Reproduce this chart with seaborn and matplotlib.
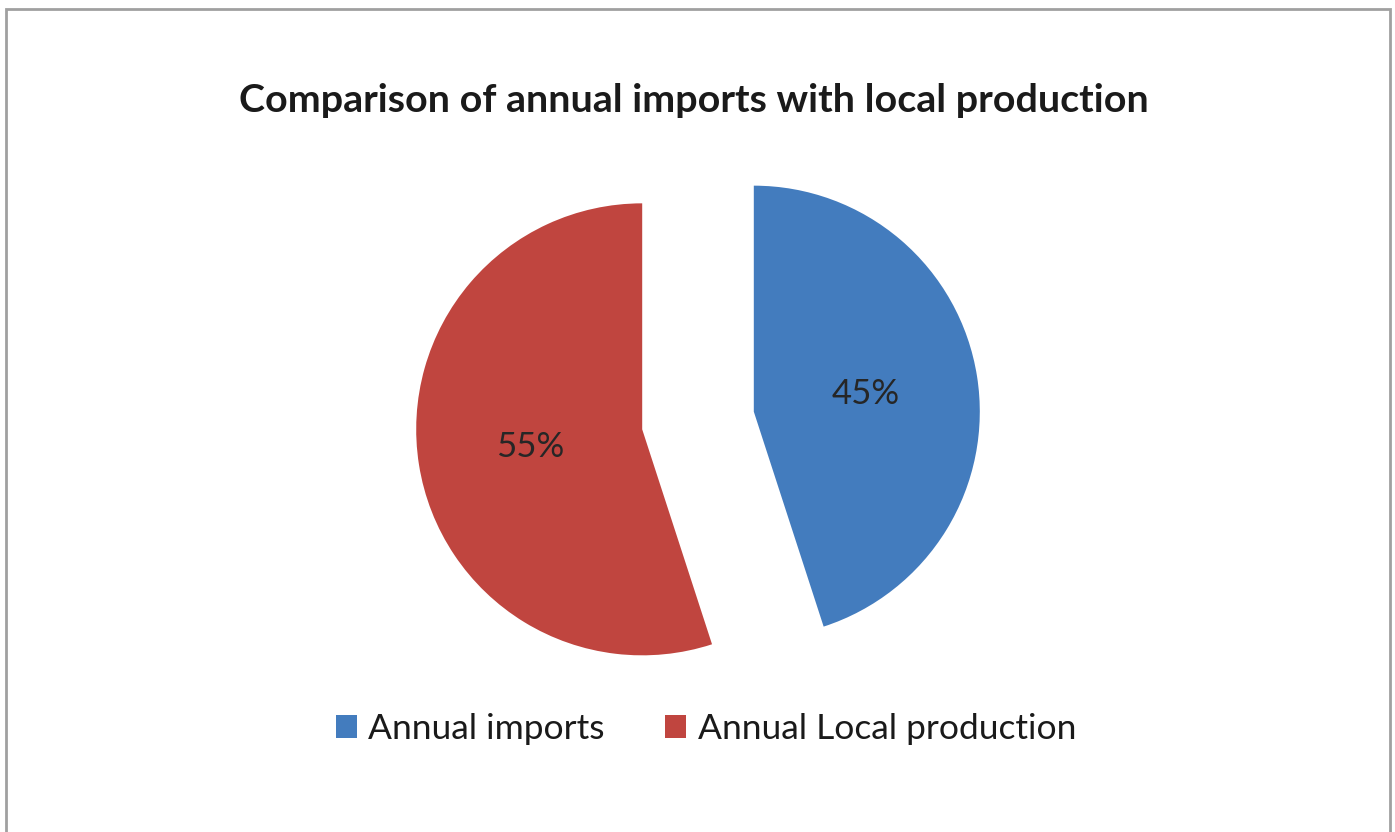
import matplotlib
matplotlib.use("Agg")
import matplotlib.pyplot as plt
from matplotlib.patches import Rectangle, Patch
import seaborn as sns

# Chart data
categories = ["Annual imports", "Annual Local production"]
shares = [45, 55]
colors = ["#437CBE", "#C0453F"]

sns.set_theme(style="white")
plt.rcParams["font.family"] = ["Lato", "DejaVu Sans"]

W, H = 1395, 832
fig = plt.figure(figsize=(W / 100, H / 100), dpi=100)
fig.patch.set_facecolor("white")

# Axes spans the whole figure; 1 data unit = pie radius in pixels
R = 226.0
cx, cy = 698.0, H - 420.5
ax = fig.add_axes([0, 0, 1, 1])

wedges, texts, autotexts = ax.pie(
    shares,
    colors=colors,
    startangle=90,
    counterclock=False,
    explode=[0.25, 0.25],
    autopct="%1.0f%%",
    pctdistance=0.5,
    radius=1.0,
    wedgeprops=dict(linewidth=0),
    textprops=dict(fontsize=25, color="#262626"),
)
ax.set_xlim(-cx / R, (W - cx) / R)
ax.set_ylim(-cy / R, (H - cy) / R)
ax.set_aspect("equal", adjustable="box")
ax.axis("off")

# Chart title
fig.text(694 / W, 1 - 101 / H, "Comparison of annual imports with local production",
         ha="center", va="center", fontsize=28.4, fontweight="bold", color="#1a1a1a")

# Legend with square markers
handles = [Patch(facecolor=c, edgecolor="none") for c in colors]
fig.legend(handles, categories, loc="center", bbox_to_anchor=(706 / W, 1 - 729 / H),
           ncol=2, frameon=False, fontsize=25.5, handlelength=0.6, handleheight=0.6,
           handletextpad=0.32, columnspacing=1.7, labelcolor="#1a1a1a")

# Chart-area border (open at the bottom edge of the image)
fig.patches.append(Rectangle((6 / W, -0.05), (1390 - 6) / W, (H - 9) / H + 0.05,
                             transform=fig.transFigure, fill=False,
                             edgecolor="#A0A0A0", linewidth=2))

fig.savefig("out.png", dpi=100, facecolor="white")
